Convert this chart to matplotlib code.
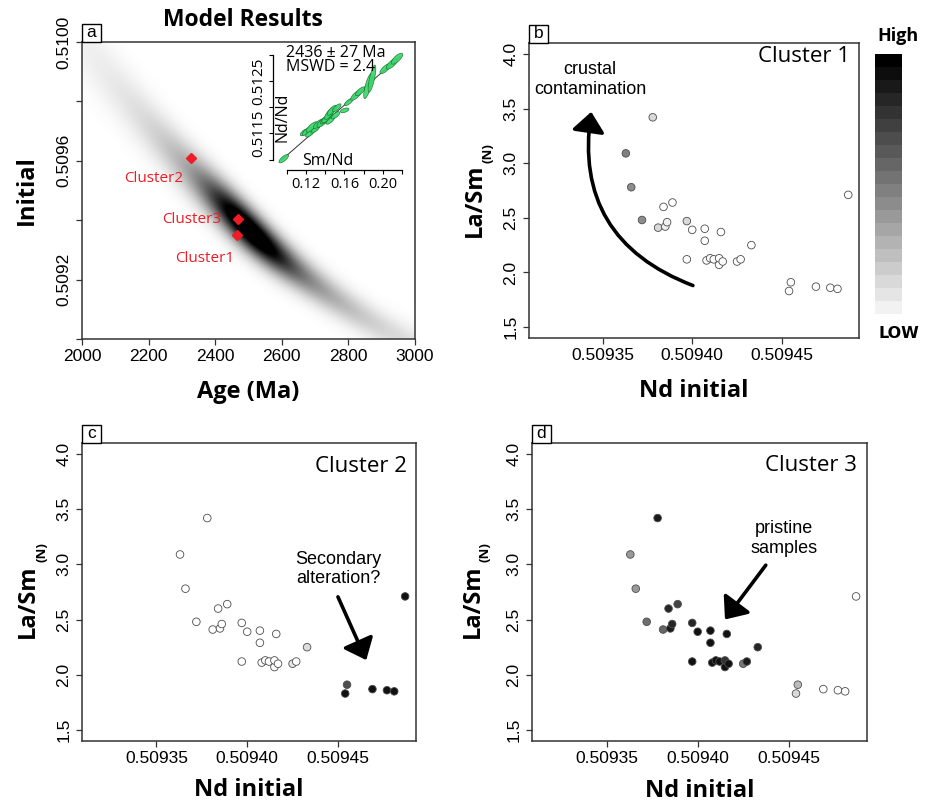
import numpy as np
import matplotlib
matplotlib.use("Agg")
import matplotlib.pyplot as plt
from matplotlib.patches import FancyArrowPatch, Polygon, Rectangle
from matplotlib.colors import ListedColormap, BoundaryNorm
import matplotlib.colorbar as mcolorbar

plt.rcParams['font.family'] = ['Liberation Sans', 'DejaVu Sans']

W, H = 929, 807
DPI = 100

# ---- sample data (same 30 samples in b, c, d)
nd_initial = [0.509378, 0.509363, 0.509366, 0.509372, 0.509381, 0.509384, 0.509385,
              0.509386, 0.509389, 0.509397, 0.509397, 0.509400, 0.509407, 0.509407,
              0.509408, 0.509410, 0.509412, 0.509415, 0.509415, 0.509417, 0.509416,
              0.509425, 0.509427, 0.509433, 0.509455, 0.509454, 0.509469, 0.509477,
              0.509481, 0.509487]
la_sm = [3.42, 3.09, 2.78, 2.48, 2.41, 2.60, 2.42, 2.46, 2.64, 2.47, 2.12, 2.39, 2.40,
         2.29, 2.11, 2.13, 2.12, 2.07, 2.13, 2.10, 2.37, 2.10, 2.12, 2.25, 1.91, 1.83,
         1.87, 1.86, 1.85, 2.71]

# membership shading for each cluster (white = low, black = high)
fill_cluster1 = ['#d9d9d9', '#7f7f7f', '#8c8c8c', '#8c8c8c', '#d9d9d9', 'white', '#f0f0f0',
                 '#f0f0f0', 'white', '#d9d9d9', 'white', 'white', 'white', 'white',
                 'white', 'white', 'white', 'white', 'white', 'white', 'white',
                 'white', 'white', 'white', 'white', 'white', 'white', 'white',
                 'white', 'white']
fill_cluster2 = ['white'] * 21 + ['#e6e6e6', 'white', '#dcdcdc', '#4d4d4d', '#111111',
                                  '#111111', '#111111', '#111111', '#111111']
fill_cluster3 = ['#1a1a1a', '#999999', '#999999', '#6e6e6e', '#666666', '#262626', '#1a1a1a',
                 '#262626', '#444444', '#262626', '#111111', '#111111', '#111111', '#111111',
                 '#111111', '#111111', '#111111', '#111111', '#333333', '#111111', '#111111',
                 '#777777', '#1a1a1a', '#262626', '#bbbbbb', '#d9d9d9', 'white', 'white',
                 'white', 'white']

# ---- model results (panel a)
cluster_names = ['Cluster1', 'Cluster2', 'Cluster3']
cluster_age = [2465, 2326, 2469]
cluster_nd0 = [0.50935, 0.509608, 0.509403]
cluster_label_offset = [(-32, -23), (-37, -20), (-47, 0)]   # pixels

# density ridge of model results (normalised axes units)
ridge_u0, ridge_v0 = 0.495, 0.375
ridge_slope, ridge_curv = -1.02, 0.47
ridge_w0, ridge_dw, ridge_dw2 = 0.05, -0.045, 0.05
ridge_amp = [0.56, 0.32, 0.12]
ridge_cen = [0.495, 0.50, 0.50]
ridge_sig = [0.08, 0.17, 0.50]

# ---- Sm-Nd isochron inset
iso_x = [0.0967, 0.1180, 0.1210, 0.1240, 0.1262, 0.1297, 0.1332, 0.1374, 0.1400, 0.1419,
         0.1443, 0.1454, 0.1471, 0.1506, 0.1520, 0.1603, 0.1645, 0.1721, 0.1766, 0.1847,
         0.1888, 0.2027, 0.2097, 0.2149]
iso_y = [0.511016, 0.511520, 0.511540, 0.511500, 0.511622, 0.511578, 0.511685, 0.511718,
         0.511760, 0.511794, 0.511876, 0.511750, 0.511941, 0.511846, 0.511990, 0.511941,
         0.512100, 0.512228, 0.512305, 0.512406, 0.512546, 0.512737, 0.512833, 0.512928]
iso_sx = [0.0050, 0.0040, 0.0050, 0.0045, 0.0060, 0.0045, 0.0055, 0.0060, 0.0050, 0.0055,
          0.0050, 0.0045, 0.0050, 0.0045, 0.0045, 0.0045, 0.0045, 0.0055, 0.0050, 0.0045,
          0.0040, 0.0055, 0.0060, 0.0060]
iso_sy = [0.000080, 0.000065, 0.000080, 0.000070, 0.000100, 0.000070, 0.000090, 0.000100,
          0.000080, 0.000090, 0.000110, 0.000075, 0.000095, 0.000070, 0.000075, 0.000045,
          0.000070, 0.000095, 0.000085, 0.000240, 0.000260, 0.000095, 0.000105, 0.000105]
iso_rho = [0.75, 0.7, 0.75, 0.7, 0.75, 0.75, 0.75, 0.75, 0.75, 0.75, 0.75, 0.75, 0.75,
           0.7, 0.75, 0.5, 0.75, 0.75, 0.75, 0.75, 0.75, 0.75, 0.75, 0.75]
iso_slope, iso_intercept = 0.0160, 0.50948
iso_xrange = [0.0946, 0.2181]

n_levels = 20

fig = plt.figure(figsize=(W / DPI, H / DPI), dpi=DPI)
fig.patch.set_facecolor('white')


def px_axes(left, top, right, bottom):
    return fig.add_axes([left / W, 1 - bottom / H, (right - left) / W, (bottom - top) / H])


def r_style(ax):
    for s in ax.spines.values():
        s.set_linewidth(1.1)
        s.set_color('#333333')
    ax.tick_params(direction='out', length=4.5, width=0.9, color='#333333',
                   labelsize=12.5, pad=3)
    ax.tick_params(axis='y', labelrotation=90)
    for lab in ax.get_yticklabels():
        lab.set_va('center')


def panel_letter(ax, letter):
    x0, y0, w0, h0 = ax.get_position().bounds
    bw, bh = 19 / W, 18 / H
    fig.patches.append(Rectangle((x0, y0 + h0), bw, bh, transform=fig.transFigure,
                                 fc='white', ec='black', lw=1.0))
    fig.text(x0 + bw / 2, y0 + h0 + bh / 2, letter, ha='center', va='center', fontsize=12.5)


def axis_titles(ax, xlab, xy, ylab, yx, sub=None):
    bold = dict(fontsize=17, fontweight='bold', family='Open Sans', transform=ax.transAxes,
                ha='center', va='center')
    ax.text(0.5, xy, xlab, **bold)
    if sub is None:
        ax.text(yx, 0.5, ylab, rotation=90, **bold)
    else:
        ax.text(yx, 0.468, ylab, rotation=90, **bold)
        ax.text(sub[0], sub[1], '(N)', rotation=90, fontsize=9.5, fontweight='bold',
                family='Open Sans', transform=ax.transAxes, ha='center', va='center')


# ======================= panel a =======================
axa = px_axes(82, 42, 415, 339)
u = np.linspace(0, 1, 500)
v = np.linspace(0, 1, 500)
U, V = np.meshgrid(u, v)
du = U - ridge_u0
vc = ridge_v0 + ridge_slope * du + ridge_curv * du ** 2
wid = ridge_w0 + ridge_dw * du + ridge_dw2 * du ** 2
amp = sum(a * np.exp(-0.5 * ((U - c) / s) ** 2) for a, c, s in zip(ridge_amp, ridge_cen, ridge_sig))
dens = amp * (ridge_w0 / wid) * np.exp(-0.5 * ((V - vc) / wid) ** 2)
axa.imshow(dens, origin='lower', extent=[2000, 3000, 0.5090, 0.5100], aspect='auto',
           cmap='gray_r', vmin=0, vmax=0.78, interpolation='bilinear')
axa.set_xlim(2000, 3000)
axa.set_ylim(0.5090, 0.5100)
axa.plot(cluster_age, cluster_nd0, 'D', color='#ee1c25', ms=5, mec='#ee1c25')
for name, ag, nd0, off in zip(cluster_names, cluster_age, cluster_nd0, cluster_label_offset):
    axa.annotate(name, (ag, nd0), xytext=(off[0] * 0.72, off[1] * 0.72), textcoords='offset points',
                 ha='center', va='center', color='#ee1c25', fontsize=11, family='Open Sans')
axa.set_xticks([2000, 2200, 2400, 2600, 2800, 3000])
axa.set_yticks([0.5090, 0.5092, 0.5094, 0.5096, 0.5098, 0.5100])
axa.set_yticklabels(['', '0.5092', '', '0.5096', '', '0.5100'])
r_style(axa)
axis_titles(axa, 'Age (Ma)', -0.178, 'Initial', -0.165)
fig.text(243 / W, 1 - 20 / H, 'Model Results', ha='center', va='center', fontsize=16.5,
         fontweight='bold', family='Open Sans')
panel_letter(axa, 'a')

# inset isochron
axi = px_axes(273, 45, 410, 170)
axi.set_facecolor('none')
axi.set_xlim(0.0855, 0.2285)
axi.set_ylim(0.5108, 0.51319)
xl = np.array(iso_xrange)
axi.plot(xl, iso_intercept + iso_slope * xl, color='#333333', lw=0.7, zorder=1)
t = np.linspace(0, 2 * np.pi, 60)
for x, y, sx, sy, r in zip(iso_x, iso_y, iso_sx, iso_sy, iso_rho):
    cov = np.array([[sx ** 2, r * sx * sy], [r * sx * sy, sy ** 2]])
    L = np.linalg.cholesky(cov)
    pts = (L @ np.vstack([np.cos(t), np.sin(t)])).T + [x, y]
    axi.add_patch(Polygon(pts, closed=True, fc='#38d86c', ec='#1d6e2e', lw=0.5, alpha=0.9, zorder=2))
for side in ['top', 'right']:
    axi.spines[side].set_visible(False)
axi.spines['left'].set_bounds(0.5110, 0.5130)
axi.spines['bottom'].set_bounds(0.10, 0.22)
for side in ['left', 'bottom']:
    axi.spines[side].set_linewidth(0.9)
axi.set_xticks([0.10, 0.12, 0.14, 0.16, 0.18, 0.20, 0.22])
axi.set_xticklabels(['', '0.12', '', '0.16', '', '0.20', ''], family='Open Sans', fontsize=10.5)
axi.set_yticks([0.5110, 0.5115, 0.5120, 0.5125, 0.5130])
axi.set_yticklabels(['', '0.5115', '', '0.5125', ''], family='Open Sans', rotation=90, va='center',
                    fontsize=11)
axi.tick_params(direction='out', length=3, width=0.8, pad=2)
axi.text(0.095, 1.0, '2436 ± 27 Ma\nMSWD = 2.4', transform=axi.transAxes, ha='left', va='top',
         fontsize=11.5, family='Open Sans', linespacing=0.85)
axi.text(0.066, 0.424, 'Nd/Nd', transform=axi.transAxes, rotation=90, ha='center', va='center',
         fontsize=11.5, family='Open Sans')
axi.text(0.40, 0.075, 'Sm/Nd', transform=axi.transAxes, ha='center', va='center',
         fontsize=11.5, family='Open Sans')

# ======================= panels b, c, d =======================
panels = [
    ((529, 43, 859, 338), fill_cluster1, 'Cluster 1', (0.973, 0.954), 'b', -0.18, -0.164, (-0.124, 0.627)),
    ((82, 443, 416, 741), fill_cluster2, 'Cluster 2', (0.972, 0.920), 'c', -0.165, -0.162, (-0.121, 0.634)),
    ((532, 443, 867, 741), fill_cluster3, 'Cluster 3', (0.970, 0.924), 'd', -0.168, -0.176, (-0.14, 0.634)),
]
axes = []
for box, fills, title, tpos, letter, xly, ylx, sub in panels:
    ax = px_axes(*box)
    ax.scatter(nd_initial, la_sm, s=30, c=fills, edgecolors='#4d4d4d', linewidths=0.6, zorder=3)
    ax.set_xlim(0.509309, 0.509493)
    ax.set_ylim(1.4, 4.1)
    ax.set_xticks([0.50935, 0.50940, 0.50945])
    ax.set_xticklabels(['0.50935', '0.50940', '0.50945'])
    ax.set_yticks([1.5, 2.0, 2.5, 3.0, 3.5, 4.0])
    ax.set_yticklabels(['1.5', '2.0', '2.5', '3.0', '3.5', '4.0'])
    r_style(ax)
    ax.text(tpos[0], tpos[1], title, transform=ax.transAxes, ha='right', va='center',
            fontsize=16, family='Open Sans')
    axis_titles(ax, 'Nd initial', xly, 'La/Sm', ylx, sub)
    panel_letter(ax, letter)
    axes.append(ax)

axb, axc, axd = axes
head = '-|>,head_length=0.6,head_width=0.5'
axb.add_patch(FancyArrowPatch((0.5094004, 1.88), (0.5093437, 3.47),
                              connectionstyle='arc3,rad=-0.4', arrowstyle=head,
                              mutation_scale=20, lw=2.6, color='black',
                              shrinkA=0, shrinkB=0, zorder=4))
axb.text(0.5093431, 3.764, 'crustal\ncontamination', ha='center', va='center', fontsize=13)

axc.add_patch(FancyArrowPatch((0.5094500, 2.706), (0.5094656, 2.133), arrowstyle=head,
                              mutation_scale=20, lw=2.6, color='black',
                              shrinkA=0, shrinkB=0, zorder=4))
axc.text(0.50945, 2.957, 'Secondary\nalteration?', ha='center', va='center', fontsize=13)

axd.add_patch(FancyArrowPatch((0.5094374, 2.993), (0.509415, 2.501), arrowstyle=head,
                              mutation_scale=20, lw=2.6, color='black',
                              shrinkA=0, shrinkB=0, zorder=4))
axd.text(0.5094473, 3.237, 'pristine\nsamples', ha='center', va='center', fontsize=13)

# ======================= grey scale bar =======================
cax = px_axes(875, 54, 902, 314)
greys = [str(g) for g in np.linspace(0.95, 0.0, n_levels)]
cmap = ListedColormap(greys)
norm = BoundaryNorm(np.arange(n_levels + 1), n_levels)
cb = mcolorbar.ColorbarBase(cax, cmap=cmap, norm=norm, orientation='vertical')
cb.outline.set_visible(False)
cb.set_ticks([])
cax.minorticks_off()
cax.tick_params(which='both', length=0)
fig.text(898 / W, 1 - 36 / H, 'High', ha='center', va='center', fontsize=13,
         fontweight='bold', family='Open Sans')
fig.text(899 / W, 1 - 333 / H, 'LOW', ha='center', va='center', fontsize=11.5,
         fontweight='bold', family='DejaVu Sans')

fig.savefig('out.png', dpi=DPI, facecolor='white')
